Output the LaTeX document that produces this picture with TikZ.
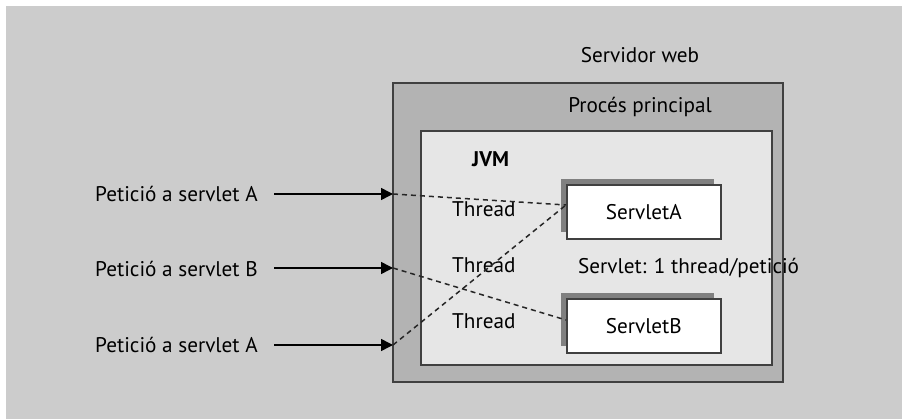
\documentclass[tikz,border=0pt]{standalone}
\usepackage{fontspec}
\setmainfont{PT Sans}
\usetikzlibrary{arrows.meta}
\definecolor{bggray}{HTML}{CCCCCC}
\definecolor{outergray}{HTML}{B3B3B3}
\definecolor{jvmgray}{HTML}{E6E6E6}
\definecolor{shadowgray}{HTML}{808080}
\definecolor{edgegray}{HTML}{404040}
\begin{document}
\begin{tikzpicture}[x=1pt,y=-1pt,
  txt/.style={font=\fontsize{21.2}{24}\selectfont, text=black, inner sep=0pt, anchor=base},
  txtl/.style={txt, anchor=base west},
  boxframe/.style={draw=edgegray, line width=1.6pt},
  req/.style={draw=black, line width=1.6pt, -{Triangle[length=12pt,width=12pt]}},
  thr/.style={draw=black!85, line width=1.5pt, dash pattern=on 5pt off 4pt}]
\useasboundingbox (0,0) rectangle (902,419);
\fill[white] (0,0) rectangle (902,419);
\fill[bggray] (6,6) rectangle (902,419);
% containers
\draw[boxframe, fill=outergray] (393,83) rectangle (783,382);
\draw[boxframe, fill=jvmgray] (421,131) rectangle (772,365);
% servlet boxes
\fill[shadowgray] (561,179) rectangle (714,232);
\node[boxframe, fill=white, minimum width=154pt, minimum height=54pt, inner sep=0pt, anchor=north west,
  font=\fontsize{21.2}{24}\selectfont, text=black] (sa) at (566,184) {ServletA};
\fill[shadowgray] (561,293) rectangle (714,346);
\node[boxframe, fill=white, minimum width=154pt, minimum height=54pt, inner sep=0pt, anchor=north west,
  font=\fontsize{21.2}{24}\selectfont, text=black] (sb) at (566,298) {ServletB};
% titles
\node[txt] (web) at (640,63) {Servidor web};
\node[txt] (proc) at (640,113) {Procés principal};
\node[txtl, font=\fontsize{21.2}{24}\selectfont\bfseries] (jvm) at (472,167) {JVM};
\node[txtl] (th1) at (452,217) {Thread};
\node[txtl] (th2) at (452,273) {Thread};
\node[txtl] (th3) at (452,329) {Thread};
\node[txtl] (rule) at (578,274) {Servlet: 1 thread/petició};
% requests
\node[txtl] (r1) at (95,202) {Petició a servlet A};
\node[txtl] (r2) at (95,277) {Petició a servlet B};
\node[txtl] (r3) at (95,353) {Petició a servlet A};
\coordinate (s1) at (274,194);
\coordinate (s2) at (274,268);
\coordinate (s3) at (274,345);
\coordinate (t1) at (393,194);
\coordinate (t2) at (393,268);
\coordinate (t3) at (393,345);
\coordinate (inA) at (566,205);
\coordinate (inB) at (566,320);
\draw[req] (s1) -- (t1);
\draw[req] (s2) -- (t2);
\draw[req] (s3) -- (t3);
\draw[thr] (t1) -- (inA);
\draw[thr] (t2) -- (inB);
\draw[thr] (t3) -- (inA);
\end{tikzpicture}
\end{document}
